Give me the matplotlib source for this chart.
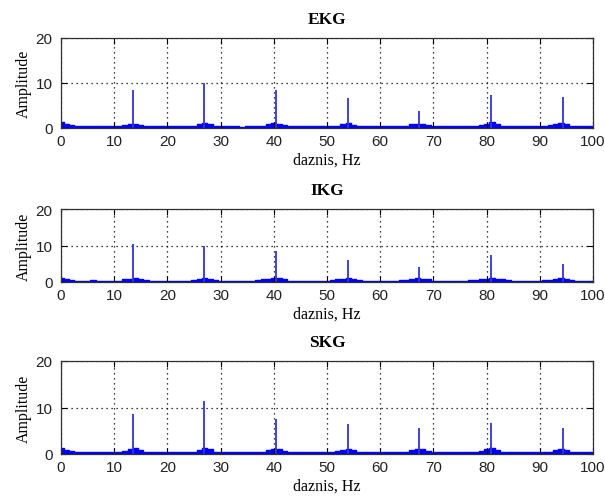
import numpy as np
import matplotlib
matplotlib.use("Agg")
import matplotlib.pyplot as plt

# Harmonic frequencies (Hz) of the dominant component
peak_freqs = [13.47, 26.95, 40.42, 53.9, 67.37, 80.85, 94.32]

# Peak amplitudes at each harmonic
ekg_peaks = [8.4, 10.0, 8.4, 6.7, 3.7, 7.3, 6.8]
ikg_peaks = [10.4, 9.9, 8.4, 5.9, 4.0, 7.3, 4.8]
skg_peaks = [8.6, 11.4, 7.5, 6.5, 5.5, 6.7, 5.5]

# Background spectrum level, one value per Hz from 0 to 100
floor_freqs = list(range(0, 101))
ekg_floor = [1.3, 0.9, 0.6, 0.5, 0.5, 0.4, 0.5, 0.4, 0.4, 0.4,
             0.4, 0.5, 0.7, 0.9, 1.0, 0.7, 0.5, 0.4, 0.4, 0.4,
             0.4, 0.4, 0.4, 0.4, 0.4, 0.5, 0.9, 1.1, 0.8, 0.5,
             0.4, 0.4, 0.4, 0.4, 0.3, 0.4, 0.4, 0.4, 0.5, 0.8,
             1.1, 1.0, 0.6, 0.4, 0.4, 0.4, 0.4, 0.4, 0.4, 0.4,
             0.4, 0.4, 0.5, 0.8, 1.1, 0.7, 0.5, 0.4, 0.4, 0.4,
             0.4, 0.4, 0.4, 0.4, 0.4, 0.5, 0.8, 1.0, 0.9, 0.6,
             0.4, 0.4, 0.4, 0.4, 0.4, 0.4, 0.5, 0.5, 0.5, 0.6,
             1.0, 1.3, 0.8, 0.5, 0.4, 0.4, 0.4, 0.4, 0.4, 0.4,
             0.4, 0.5, 0.6, 0.9, 1.1, 0.8, 0.5, 0.4, 0.4, 0.4,
             0.4]
ikg_floor = [1.2, 0.8, 0.5, 0.4, 0.4, 0.4, 0.5, 0.4, 0.4, 0.4,
             0.4, 0.4, 0.7, 0.9, 1.1, 0.8, 0.5, 0.4, 0.4, 0.4,
             0.4, 0.4, 0.4, 0.4, 0.4, 0.6, 0.9, 1.1, 0.9, 0.6,
             0.4, 0.4, 0.4, 0.4, 0.4, 0.4, 0.4, 0.5, 0.7, 0.9,
             1.1, 1.0, 0.7, 0.4, 0.4, 0.4, 0.4, 0.4, 0.4, 0.4,
             0.4, 0.5, 0.7, 0.9, 1.2, 0.8, 0.6, 0.4, 0.4, 0.4,
             0.4, 0.4, 0.4, 0.4, 0.5, 0.6, 0.8, 1.0, 0.9, 0.7,
             0.4, 0.4, 0.4, 0.4, 0.4, 0.4, 0.4, 0.5, 0.6, 0.7,
             0.9, 1.1, 0.9, 0.7, 0.5, 0.4, 0.4, 0.4, 0.4, 0.4,
             0.4, 0.5, 0.6, 0.8, 1.0, 0.8, 0.6, 0.4, 0.4, 0.4,
             0.4]
skg_floor = [1.3, 0.9, 0.6, 0.5, 0.5, 0.5, 0.4, 0.4, 0.4, 0.4,
             0.4, 0.5, 0.6, 1.0, 1.2, 0.9, 0.5, 0.4, 0.4, 0.4,
             0.4, 0.4, 0.4, 0.4, 0.4, 0.5, 0.9, 1.2, 1.0, 0.5,
             0.4, 0.4, 0.4, 0.4, 0.4, 0.4, 0.4, 0.4, 0.5, 0.9,
             1.1, 1.0, 0.6, 0.4, 0.4, 0.4, 0.4, 0.4, 0.4, 0.4,
             0.4, 0.4, 0.6, 0.9, 1.1, 0.8, 0.5, 0.4, 0.4, 0.4,
             0.4, 0.4, 0.4, 0.4, 0.4, 0.5, 0.9, 1.1, 1.0, 0.6,
             0.4, 0.4, 0.4, 0.4, 0.4, 0.4, 0.4, 0.5, 0.5, 0.6,
             1.0, 1.2, 0.9, 0.5, 0.4, 0.4, 0.4, 0.4, 0.4, 0.4,
             0.4, 0.4, 0.5, 0.8, 1.0, 0.9, 0.5, 0.4, 0.4, 0.4,
             0.4]

titles = ["EKG", "IKG", "SKG"]
xlabel_text = "daznis, Hz"
ylabel_text = "Amplitude"
xticks = [0, 10, 20, 30, 40, 50, 60, 70, 80, 90, 100]
yticks = [0, 10, 20]

W, H = 605, 502
fig = plt.figure(figsize=(W / 100, H / 100), dpi=100)

# axes boxes in pixels: left, top, right, bottom
boxes = [(61, 39, 593, 129), (61, 210, 593, 283), (61, 362, 593, 455)]

serif = ["Liberation Serif", "DejaVu Serif"]
sans = ["Liberation Sans", "DejaVu Sans"]
blue = (0.0, 0.0, 1.0)

series = [(ekg_floor, ekg_peaks), (ikg_floor, ikg_peaks), (skg_floor, skg_peaks)]

for (l, t, r, b), title, (floor, peaks) in zip(boxes, titles, series):
    ax = fig.add_axes([l / W, 1 - b / H, (r - l) / W, (b - t) / H])
    ax.fill_between(floor_freqs, 0, floor, step="mid", color=blue,
                    linewidth=1.0, edgecolor=blue)
    ax.vlines(peak_freqs, 0, peaks, color=(0.2, 0.2, 0.85), linewidth=1.3)

    ax.set_xlim(0, 100)
    ax.set_ylim(0, 20)
    ax.set_xticks(xticks)
    ax.set_yticks(yticks)
    ax.grid(True, which="major", linestyle=(0, (1, 3)), color="black",
            linewidth=0.9)
    ax.tick_params(direction="in", top=True, right=True, length=4,
                   width=0.8, labelsize=11)
    ax.tick_params(axis="x", pad=4)
    ax.tick_params(axis="y", pad=6)
    for lab in ax.get_xticklabels() + ax.get_yticklabels():
        lab.set_family(sans)
        lab.set_color("#222222")
    for s in ax.spines.values():
        s.set_color("#303030")
        s.set_linewidth(0.9)

    ax.set_title(title, fontfamily=serif, fontweight="bold", fontsize=12.5,
                 pad=11)
    ax.set_xlabel(xlabel_text, fontfamily=serif, fontsize=11.5, labelpad=3)
    ax.set_ylabel(ylabel_text, fontfamily=serif, fontsize=11.5, labelpad=3)

fig.savefig("out.png", dpi=100)
